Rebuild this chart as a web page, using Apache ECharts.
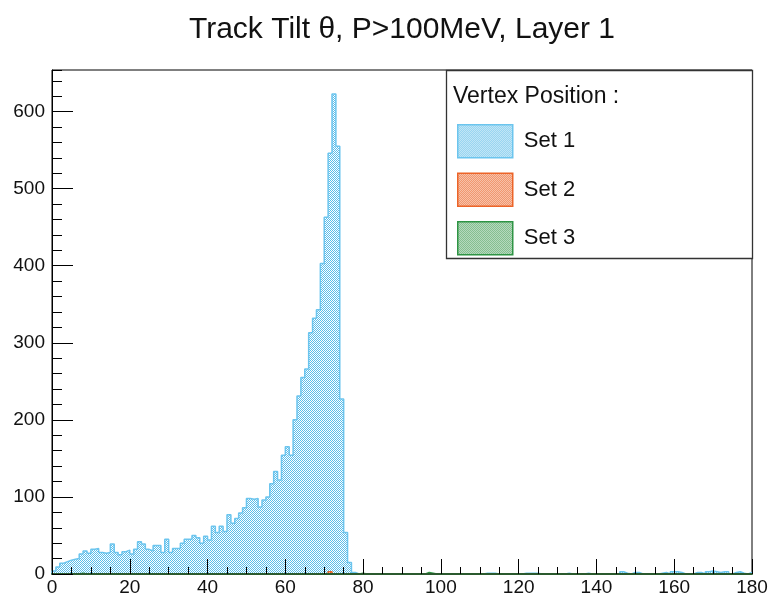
<!DOCTYPE html>
<html><head><meta charset="utf-8">
<script src="https://cdn.jsdelivr.net/npm/echarts@6/dist/echarts.min.js"></script>
<style>html,body{margin:0;padding:0;background:#fff}#c{width:772px;height:599px}</style>
</head><body><div id="c"></div>
<script>
const titleText = 'Track Tilt \u03b8, P>100MeV, Layer 1';
const legendHeader = 'Vertex Position :';
const seriesNames = ['Set 1', 'Set 2', 'Set 3'];
const xMin = 0, xMax = 180, binWidth = 1;
const yMax = 654;
const xTickStep = 20;
const yTickStep = 100;

// Set 1 : 180 bins of 1 degree
const set1 = [
  4, 9, 14, 16, 18, 19, 20, 26, 30, 27,
  32, 33, 28, 27, 28, 39, 28, 25, 29, 31,
  26, 32, 42, 39, 32, 30, 37, 37, 28, 45,
  28, 33, 33, 40, 45, 45, 50, 47, 40, 49,
  44, 62, 54, 62, 55, 77, 66, 72, 79, 86,
  98, 97, 98, 87, 96, 100, 117, 133, 122, 154,
  165, 154, 200, 231, 255, 266, 313, 332, 343, 403,
  463, 546, 623, 555, 227, 54, 15, 2, 0, 0,
  0, 0, 0, 0, 0, 0, 0, 0, 0, 0,
  0, 0, 0, 0, 0, 0, 0, 0, 0, 0,
  0, 0, 0, 0, 0, 0, 0, 0, 0, 0,
  0, 1, 1, 1, 0, 0, 0, 0, 0, 0,
  0, 1, 1, 1, 1, 0, 0, 0, 0, 0,
  0, 0, 1, 0, 0, 0, 0, 1, 0, 0,
  0, 0, 0, 0, 0, 0, 3, 1, 0, 2,
  2, 0, 0, 0, 0, 0, 1, 2, 0, 3,
  3, 2, 0, 0, 0, 2, 2, 0, 3, 4,
  3, 2, 3, 3, 0, 2, 3, 1, 0, 2
];
const set2 = [
  0, 0, 0, 0, 0, 0, 0, 0, 0, 0,
  0, 0, 0, 0, 0, 0, 0, 0, 0, 0,
  0, 0, 0, 0, 0, 0, 0, 0, 0, 0,
  0, 0, 0, 0, 0, 0, 0, 0, 0, 0,
  0, 0, 0, 0, 0, 0, 0, 0, 0, 0,
  0, 0, 0, 0, 0, 0, 0, 0, 0, 0,
  0, 0, 0, 0, 0, 0, 0, 0, 0, 0,
  0, 3, 0, 0, 0, 0, 0, 0, 0, 0,
  0, 0, 0, 0, 0, 0, 0, 0, 0, 0,
  0, 0, 0, 0, 0, 0, 0, 0, 0, 0,
  0, 0, 0, 0, 0, 0, 0, 0, 0, 0,
  0, 0, 0, 0, 0, 0, 0, 0, 0, 0,
  0, 0, 0, 0, 0, 0, 0, 0, 0, 0,
  0, 0, 0, 0, 0, 0, 0, 0, 0, 0,
  0, 0, 0, 0, 0, 0, 0, 0, 0, 0,
  0, 0, 0, 0, 0, 0, 0, 0, 0, 0,
  0, 0, 0, 0, 0, 0, 0, 0, 0, 0,
  0, 0, 0, 0, 0, 0, 0, 0, 0, 0
];
const set3 = [
  0, 0, 0, 0, 0, 0, 0, 1, 0, 0,
  0, 0, 0, 0, 0, 0, 0, 0, 0, 0,
  0, 0, 0, 0, 0, 0, 0, 0, 0, 0,
  0, 0, 0, 0, 0, 0, 0, 0, 0, 0,
  0, 0, 0, 0, 0, 0, 0, 0, 0, 0,
  0, 0, 0, 0, 0, 0, 0, 0, 0, 0,
  0, 0, 0, 0, 0, 0, 0, 0, 0, 0,
  0, 0, 0, 0, 0, 0, 0, 0, 0, 1,
  0, 0, 0, 0, 0, 0, 0, 0, 0, 0,
  0, 0, 0, 0, 0, 0, 2, 1, 0, 0,
  0, 0, 0, 0, 0, 0, 0, 0, 0, 0,
  0, 0, 0, 0, 0, 0, 0, 0, 0, 0,
  0, 0, 0, 0, 0, 0, 0, 0, 0, 0,
  0, 0, 0, 0, 0, 0, 0, 0, 0, 0,
  0, 0, 0, 0, 0, 0, 0, 0, 0, 0,
  0, 0, 0, 0, 0, 0, 0, 0, 0, 0,
  0, 0, 0, 0, 0, 0, 0, 0, 0, 0,
  0, 0, 0, 0, 0, 0, 0, 0, 0, 0
];

const FONT = '"Liberation Sans", Arial, Helvetica, sans-serif';
const lineColors = ['#6cc5ee', '#ec6428', '#2e9444'];
const dotColors = ['#5cbde9', '#ea5a1a', '#3d9a50'];

function pattern(c) {
  const cv = document.createElement('canvas');
  cv.width = 2; cv.height = 2;
  const g = cv.getContext('2d');
  g.fillStyle = '#ffffff'; g.fillRect(0, 0, 2, 2);
  g.fillStyle = c; g.fillRect(0, 0, 1, 1); g.fillRect(1, 1, 1, 1);
  return { image: cv, repeat: 'repeat' };
}

function stepData(vals) {
  const pts = [[xMin, 0]];
  vals.forEach((v, i) => pts.push([xMin + i * binWidth, v]));
  const end = xMin + vals.length * binWidth;
  pts.push([end, vals[vals.length - 1]]);
  pts.push([end, 0]);
  return pts;
}

const allSets = [set1, set2, set3];
const series = allSets.map((vals, k) => ({
  type: 'line', name: seriesNames[k], step: 'end',
  data: stepData(vals), symbol: 'none', showSymbol: false,
  xAxisIndex: 0, yAxisIndex: 0, z: 2 + k, silent: true,
  lineStyle: { color: lineColors[k], width: 1.5 },
  itemStyle: { color: lineColors[k] },
  areaStyle: { color: pattern(dotColors[k]), opacity: 1 }
}));

const chart = echarts.init(document.getElementById('c'), null, { renderer: 'canvas' });
chart.setOption({
  animation: false,
  backgroundColor: '#ffffff',
  title: {
    text: titleText, left: 402, textAlign: 'center', top: 15, padding: 0,
    textStyle: { fontSize: 30, fontWeight: 'normal', color: '#111', fontFamily: FONT }
  },
  grid: {
    left: 52, right: 20, top: 70, bottom: 25, show: true,
    borderColor: '#000', borderWidth: 1, backgroundColor: 'transparent',
    containLabel: false, outerBoundsMode: 'none'
  },
  xAxis: [{
    type: 'value', min: xMin, max: xMax, interval: xTickStep, z: 5,
    axisLine: { show: true, onZero: false, lineStyle: { color: '#2b5a2e', width: 2 } },
    axisTick: { show: true, inside: true, length: 15, lineStyle: { color: '#000', width: 1 } },
    minorTick: { show: true, splitNumber: 4, length: 7, lineStyle: { color: '#000', width: 1 } },
    axisLabel: { show: true, fontSize: 19, color: '#111', margin: 4, fontFamily: FONT, hideOverlap: false },
    splitLine: { show: false }, minorSplitLine: { show: false }
  }],
  yAxis: [{
    type: 'value', min: 0, max: yMax, interval: yTickStep, z: 5, position: 'left',
    axisLine: { show: true, onZero: false, lineStyle: { color: '#000', width: 1 } },
    axisTick: { show: true, inside: true, length: 21, lineStyle: { color: '#000', width: 1 } },
    axisLabel: { show: true, fontSize: 19, color: '#111', margin: 7, fontFamily: FONT, showMaxLabel: false, hideOverlap: false },
    splitLine: { show: false }
  }, {
    type: 'value', min: 0, max: yMax, interval: yTickStep / 5, z: 5, position: 'left', offset: 0,
    axisLine: { show: false },
    axisTick: { show: true, inside: true, length: 10, lineStyle: { color: '#000', width: 1 } },
    axisLabel: { show: false },
    splitLine: { show: false }
  }],
  legend: {
    orient: 'vertical', left: 457, top: 124, padding: 0,
    itemWidth: 55, itemHeight: 33, itemGap: 14, selectedMode: false, icon: 'rect', z: 6,
    textStyle: { fontSize: 22, color: '#111', fontFamily: FONT, padding: [0, 0, 0, 6] },
    data: seriesNames.map((n, k) => ({
      name: n, icon: 'rect',
      itemStyle: { color: pattern(dotColors[k]), borderColor: lineColors[k], borderWidth: 1.5 }
    }))
  },
  graphic: [
    { type: 'rect', z: 4, silent: true,
      shape: { x: 446.5, y: 70.5, width: 306, height: 188 },
      style: { fill: '#ffffff', stroke: '#333', lineWidth: 1.3 } },
    { type: 'text', z: 7, silent: true,
      style: { text: legendHeader, x: 453, y: 97, fontSize: 23, fontFamily: FONT, fill: '#111',
               verticalAlign: 'middle', align: 'left' } }
  ],
  series: series
});
</script>
</body></html>
